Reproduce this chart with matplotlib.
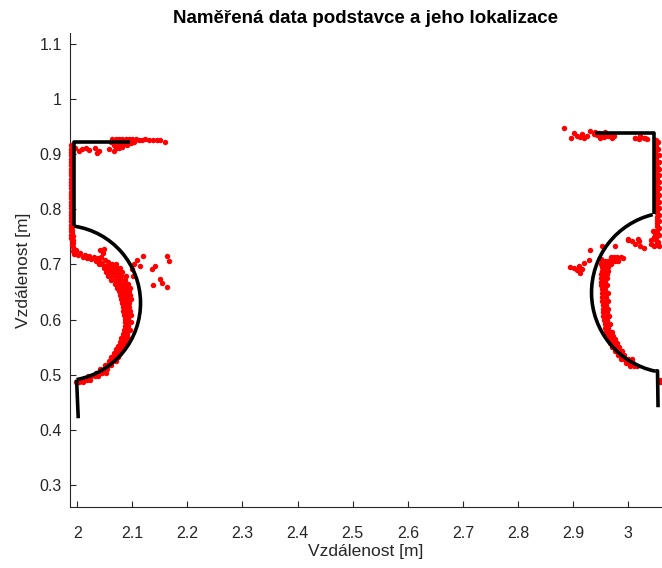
import matplotlib
matplotlib.use('Agg')
import matplotlib.pyplot as plt
from matplotlib.patches import Arc

plt.rcParams['font.family'] = ['Liberation Sans', 'DejaVu Sans']

# ---- localized stand outline (black), left and right part ----
left_top_x = [2.096, 1.995, 1.995]
left_top_y = [0.922, 0.922, 0.769]
left_bot_x = [1.999, 2.002]
left_bot_y = [0.491, 0.421]
left_arc_center = (1.974, 0.630)
left_arc_radius = 0.141
left_arc_angles = (-79.8, 81.4)

right_top_x = [2.940, 3.046, 3.046]
right_top_y = [0.939, 0.939, 0.791]
right_bot_x = [3.049, 3.053, 3.054]
right_bot_y = [0.507, 0.507, 0.441]
right_arc_center = (3.079, 0.649)
right_arc_radius = 0.1457
right_arc_angles = (103.8, 258.0)

# ---- measured points (red), left part ----
left_wall = [
    (1.989, 0.916), (1.989, 0.910), (1.989, 0.904), (1.989, 0.898), (1.988, 0.892),
    (1.988, 0.886), (1.988, 0.880), (1.988, 0.874), (1.988, 0.868), (1.988, 0.862),
    (1.988, 0.856), (1.988, 0.850), (1.988, 0.844), (1.988, 0.838), (1.988, 0.832),
    (1.988, 0.826), (1.988, 0.820), (1.988, 0.814), (1.988, 0.808), (1.988, 0.802),
    (1.988, 0.796), (1.988, 0.790), (1.988, 0.784), (1.988, 0.778), (1.988, 0.772),
    (1.988, 0.766), (1.989, 0.760), (1.989, 0.754), (1.989, 0.748), (1.990, 0.742),
    (1.990, 0.736), (1.991, 0.913), (1.991, 0.907), (1.991, 0.901), (1.990, 0.895),
    (1.990, 0.889), (1.990, 0.883), (1.990, 0.877), (1.990, 0.871), (1.990, 0.865),
    (1.990, 0.859), (1.990, 0.853), (1.990, 0.847), (1.990, 0.841), (1.990, 0.835),
    (1.990, 0.829), (1.990, 0.823), (1.990, 0.817), (1.990, 0.811), (1.990, 0.805),
    (1.990, 0.799), (1.990, 0.793), (1.990, 0.787), (1.990, 0.781), (1.990, 0.775),
    (1.991, 0.769), (1.991, 0.763), (1.991, 0.757), (1.992, 0.751), (1.992, 0.745),
    (1.993, 0.739), (1.993, 0.732),
]
left_top = [
    (2.064, 0.927), (2.070, 0.927), (2.076, 0.928), (2.082, 0.927), (2.088, 0.928),
    (2.094, 0.927), (2.100, 0.927), (2.106, 0.927), (2.112, 0.926),
    (2.062, 0.922), (2.068, 0.922), (2.074, 0.922), (2.080, 0.922), (2.086, 0.921),
    (2.092, 0.922), (2.098, 0.921), (2.104, 0.922),
    (2.066, 0.917), (2.072, 0.917), (2.078, 0.916), (2.084, 0.917), (2.090, 0.917),
    (2.070, 0.912), (2.076, 0.912), (2.082, 0.913),
    (2.118, 0.926), (2.124, 0.927), (2.130, 0.925), (2.137, 0.926), (2.144, 0.925),
    (2.150, 0.926), (2.160, 0.923), (2.058, 0.909), (2.066, 0.906),
    (1.996, 0.912), (2.004, 0.906), (2.009, 0.909), (2.016, 0.911), (2.022, 0.908),
    (2.032, 0.911), (2.036, 0.902), (2.040, 0.905),
]
left_band = [
    (1.992, 0.724), (1.995, 0.719), (1.998, 0.726), (2.002, 0.718), (2.006, 0.721),
    (2.010, 0.714), (2.014, 0.718), (2.018, 0.712), (2.022, 0.716), (2.026, 0.710),
    (2.030, 0.713), (2.034, 0.707), (2.038, 0.711), (2.042, 0.705), (2.044, 0.713),
    (2.047, 0.720), (2.050, 0.708), (2.046, 0.700), (2.052, 0.698), (2.056, 0.704),
    (2.058, 0.694), (2.042, 0.727), (2.048, 0.728),
    (2.040, 0.700), (2.058, 0.700), (2.064, 0.700), (2.070, 0.700),
    (2.048, 0.693), (2.054, 0.693), (2.060, 0.693), (2.066, 0.693), (2.072, 0.693), (2.078, 0.693),
    (2.052, 0.686), (2.058, 0.686), (2.064, 0.686), (2.070, 0.686), (2.076, 0.686), (2.082, 0.686),
    (2.056, 0.679), (2.062, 0.679), (2.068, 0.679), (2.074, 0.679), (2.080, 0.679), (2.088, 0.679),
    (2.062, 0.672), (2.068, 0.672), (2.074, 0.672), (2.080, 0.672), (2.086, 0.672),
    (2.068, 0.665), (2.074, 0.665), (2.080, 0.665), (2.086, 0.665), (2.092, 0.665),
    (2.072, 0.658), (2.078, 0.658), (2.084, 0.658), (2.090, 0.658), (2.096, 0.658),
    (2.076, 0.651), (2.082, 0.651), (2.088, 0.651), (2.094, 0.651),
    (2.078, 0.644), (2.084, 0.644), (2.090, 0.644), (2.096, 0.644),
    (2.080, 0.637), (2.086, 0.637), (2.092, 0.637), (2.098, 0.637),
    (2.082, 0.630), (2.088, 0.630), (2.094, 0.630),
    (2.083, 0.623), (2.089, 0.623), (2.095, 0.623),
    (2.083, 0.616), (2.089, 0.616), (2.096, 0.616),
    (2.085, 0.609), (2.091, 0.609), (2.097, 0.609),
    (2.086, 0.602), (2.092, 0.602),
    (2.086, 0.595), (2.092, 0.595), (2.097, 0.595),
    (2.086, 0.588), (2.092, 0.588),
    (2.085, 0.581), (2.091, 0.581), (2.096, 0.581),
    (2.084, 0.574), (2.090, 0.574),
    (2.080, 0.567), (2.086, 0.567), (2.092, 0.567),
    (2.078, 0.560), (2.084, 0.560), (2.090, 0.560),
    (2.074, 0.553), (2.080, 0.553), (2.086, 0.553),
    (2.070, 0.546), (2.076, 0.546), (2.082, 0.546),
    (2.066, 0.539), (2.072, 0.539), (2.078, 0.539),
    (2.062, 0.532), (2.068, 0.532), (2.074, 0.532),
    (2.058, 0.525), (2.064, 0.525), (2.070, 0.525),
    (2.050, 0.518), (2.056, 0.518), (2.062, 0.518),
    (2.042, 0.511), (2.048, 0.511), (2.054, 0.511),
    (2.034, 0.504), (2.040, 0.504), (2.046, 0.504), (2.052, 0.504),
    (2.020, 0.497), (2.026, 0.497), (2.032, 0.497), (2.038, 0.497),
    (2.006, 0.491), (2.012, 0.491), (2.018, 0.491), (2.024, 0.491),
    (1.998, 0.486), (2.004, 0.486), (2.010, 0.486),
]
left_outliers = [
    (2.108, 0.709), (2.120, 0.715), (2.114, 0.697), (2.136, 0.691), (2.142, 0.698),
    (2.163, 0.715), (2.166, 0.706), (2.151, 0.673), (2.154, 0.666), (2.138, 0.663),
    (2.163, 0.660), (2.099, 0.691), (2.102, 0.679), (2.104, 0.700),
]

# ---- measured points (red), right part ----
right_wall = [
    (3.050, 0.925), (3.050, 0.919), (3.050, 0.913), (3.051, 0.907), (3.051, 0.901),
    (3.051, 0.895), (3.051, 0.889), (3.051, 0.883), (3.052, 0.877), (3.052, 0.871),
    (3.052, 0.865), (3.052, 0.859), (3.052, 0.853), (3.052, 0.847), (3.052, 0.841),
    (3.052, 0.835), (3.052, 0.829), (3.052, 0.823), (3.052, 0.817), (3.052, 0.811),
    (3.052, 0.805), (3.052, 0.799), (3.052, 0.793), (3.052, 0.787), (3.052, 0.781),
    (3.052, 0.775), (3.052, 0.769), (3.052, 0.763), (3.052, 0.757), (3.052, 0.751),
    (3.054, 0.922), (3.054, 0.910), (3.055, 0.898), (3.055, 0.886), (3.055, 0.874),
    (3.055, 0.862), (3.055, 0.850), (3.055, 0.838), (3.055, 0.826), (3.055, 0.814),
    (3.055, 0.802), (3.055, 0.790), (3.055, 0.778), (3.055, 0.766), (3.055, 0.754),
    (3.042, 0.738), (3.046, 0.734), (3.042, 0.745), (3.046, 0.750), (3.050, 0.744),
    (3.050, 0.736), (3.054, 0.741), (3.056, 0.733), (3.048, 0.757), (3.044, 0.760),
]
right_top = [
    (2.884, 0.948), (2.901, 0.939), (2.907, 0.933), (2.916, 0.936), (2.925, 0.933),
    (2.931, 0.942), (2.937, 0.936), (2.896, 0.930), (2.912, 0.931), (2.920, 0.930),
    (2.940, 0.940), (2.944, 0.935), (2.946, 0.939), (2.950, 0.934), (2.955, 0.936),
    (2.958, 0.940), (2.962, 0.935), (2.964, 0.933), (2.968, 0.937), (2.970, 0.930),
    (2.948, 0.930), (2.956, 0.931), (2.974, 0.934),
    (3.013, 0.930), (3.019, 0.927), (3.028, 0.930), (3.034, 0.927),
    (3.013, 0.929), (3.022, 0.933), (3.031, 0.929),
]
right_band = [
    (2.968, 0.713), (2.974, 0.713), (2.980, 0.713), (2.986, 0.713), (2.990, 0.712),
    (2.952, 0.707), (2.958, 0.707), (2.964, 0.707), (2.970, 0.707), (2.976, 0.707), (2.982, 0.707),
    (2.950, 0.701), (2.956, 0.701), (2.962, 0.701), (2.968, 0.701),
    (2.952, 0.695), (2.958, 0.695), (2.964, 0.695),
    (2.952, 0.689), (2.958, 0.689), (2.963, 0.689),
    (2.950, 0.683), (2.956, 0.683), (2.962, 0.683),
    (2.950, 0.676), (2.956, 0.676), (2.962, 0.676),
    (2.951, 0.669), (2.957, 0.669),
    (2.951, 0.662), (2.957, 0.662), (2.962, 0.662),
    (2.952, 0.655), (2.958, 0.655),
    (2.952, 0.648), (2.958, 0.648), (2.963, 0.648),
    (2.953, 0.641), (2.959, 0.641),
    (2.953, 0.634), (2.959, 0.634), (2.963, 0.634),
    (2.954, 0.627), (2.960, 0.627),
    (2.954, 0.620), (2.960, 0.620), (2.964, 0.620),
    (2.955, 0.613), (2.961, 0.613),
    (2.955, 0.606), (2.961, 0.606), (2.965, 0.606),
    (2.956, 0.599), (2.962, 0.599),
    (2.957, 0.592), (2.963, 0.592), (2.967, 0.592),
    (2.958, 0.585), (2.964, 0.585),
    (2.960, 0.578), (2.966, 0.578), (2.970, 0.578),
    (2.962, 0.571), (2.968, 0.571), (2.973, 0.571),
    (2.964, 0.564), (2.970, 0.564), (2.976, 0.564),
    (2.967, 0.557), (2.973, 0.557), (2.979, 0.557),
    (2.971, 0.550), (2.977, 0.550), (2.983, 0.550),
    (2.976, 0.543), (2.982, 0.543), (2.988, 0.543),
    (2.981, 0.536), (2.987, 0.536), (2.993, 0.536),
    (2.987, 0.529), (2.993, 0.529), (3.000, 0.529), (3.006, 0.529),
    (2.995, 0.522), (3.001, 0.522), (3.008, 0.522),
    (3.004, 0.515), (3.010, 0.515), (3.016, 0.515),
    (3.057, 0.491), (3.058, 0.486),
]
right_outliers = [
    (2.901, 0.694), (2.910, 0.698), (2.919, 0.703), (2.913, 0.685), (2.928, 0.709),
    (2.931, 0.727), (2.952, 0.733), (2.976, 0.733), (3.000, 0.745), (3.019, 0.742),
    (3.022, 0.733), (3.028, 0.730), (2.907, 0.690), (2.916, 0.692), (2.895, 0.696),
    (3.000, 0.746), (3.007, 0.742), (3.018, 0.746), (3.013, 0.737), (2.950, 0.710),
]

fig = plt.figure(figsize=(6.62, 5.68), dpi=100)
ax = fig.add_axes([0.1057, 0.1074, 0.893, 0.8345])

# red measured data (drawn over the axis line like in the original)
for pts in [left_wall, left_top, left_band, left_outliers,
            right_wall, right_top, right_band, right_outliers]:
    xs = [p[0] for p in pts]
    ys = [p[1] for p in pts]
    ax.plot(xs, ys, 'o', color='red', markersize=3.9, markeredgewidth=0,
            clip_on=False, zorder=2.6)

# black fitted outline
lw = 2.6
ax.plot(left_top_x, left_top_y, color='black', lw=lw, solid_capstyle='butt', zorder=3)
ax.plot(left_bot_x, left_bot_y, color='black', lw=lw, solid_capstyle='butt', zorder=3)
ax.plot(right_top_x, right_top_y, color='black', lw=lw, solid_capstyle='butt', zorder=3)
ax.plot(right_bot_x, right_bot_y, color='black', lw=lw, solid_capstyle='butt', zorder=3)
for c, r, ang in [(left_arc_center, left_arc_radius, left_arc_angles),
                  (right_arc_center, right_arc_radius, right_arc_angles)]:
    ax.add_patch(Arc(c, 2 * r, 2 * r, theta1=ang[0], theta2=ang[1],
                     color='black', lw=lw, zorder=3))

ax.set_xlim(1.987, 3.0596)
ax.set_ylim(0.26, 1.12)
ax.set_xticks([2, 2.1, 2.2, 2.3, 2.4, 2.5, 2.6, 2.7, 2.8, 2.9, 3])
ax.set_xticklabels(['2', '2.1', '2.2', '2.3', '2.4', '2.5', '2.6', '2.7', '2.8', '2.9', '3'])
ax.set_yticks([0.3, 0.4, 0.5, 0.6, 0.7, 0.8, 0.9, 1, 1.1])
ax.set_yticklabels(['0.3', '0.4', '0.5', '0.6', '0.7', '0.8', '0.9', '1', '1.1'])

axcol = '#262626'
for s in ['top', 'right']:
    ax.spines[s].set_visible(False)
for s in ['left', 'bottom']:
    ax.spines[s].set_color(axcol)
    ax.spines[s].set_linewidth(0.8)
ax.tick_params(direction='in', length=4, width=0.8, colors=axcol, labelsize=11.5)
ax.tick_params(axis='x', pad=14)
ax.tick_params(axis='y', pad=6)

ax.set_xlabel('Vzdálenost [m]', fontsize=12.5, color=axcol, labelpad=2)
ax.set_ylabel('Vzdálenost [m]', fontsize=12.5, color=axcol, labelpad=6)
ax.set_title('Naměřená data podstavce a jeho lokalizace', fontsize=13.5,
             fontweight='bold', color='black', pad=7)

fig.savefig('out.png', dpi=100)
